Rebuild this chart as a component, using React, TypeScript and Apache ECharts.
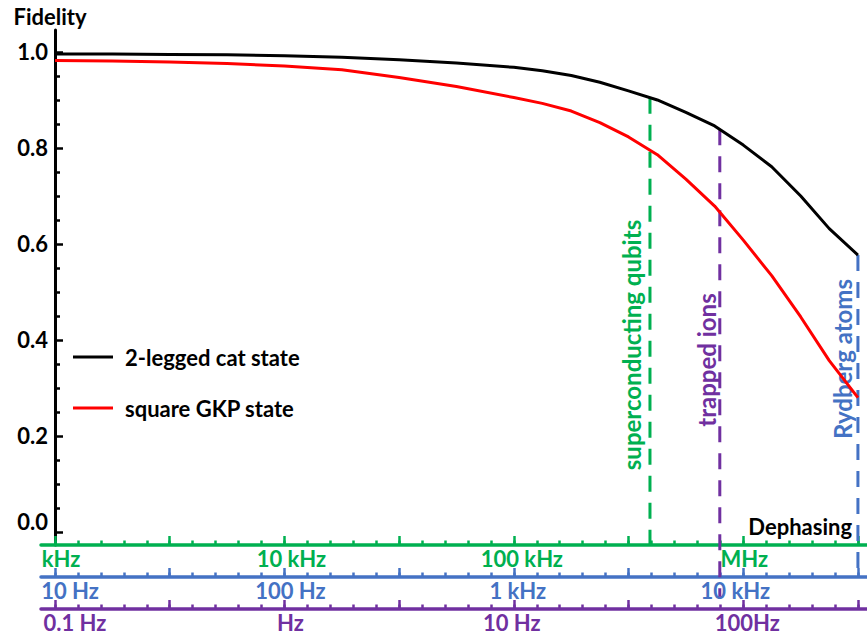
import React, { useEffect, useRef } from 'react';
import * as echarts from 'echarts';

// Dephasing rate on the green (superconducting) scale, in Hz
const rateHz = [
  1e3, 1.78e3, 3.16e3, 5.62e3, 1e4, 1.78e4, 3.16e4, 5.62e4,
  1e5, 1.33e5, 1.78e5, 2.37e5, 3.16e5, 4.22e5, 5.62e5, 7.5e5,
  1e6, 1.33e6, 1.78e6, 2.37e6, 3.16e6,
];
const catFidelity = [
  0.996, 0.996, 0.995, 0.994, 0.992, 0.989, 0.984, 0.977,
  0.968, 0.961, 0.951, 0.937, 0.919, 0.9, 0.874, 0.846,
  0.806, 0.761, 0.70, 0.632, 0.577,
];
const gkpFidelity = [
  0.982, 0.981, 0.979, 0.976, 0.971, 0.963, 0.947, 0.928,
  0.905, 0.893, 0.877, 0.853, 0.823, 0.786, 0.735, 0.679,
  0.608, 0.534, 0.448, 0.357, 0.28,
];

const platformNames = ['superconducting qubits', 'trapped ions', 'Rydberg atoms'];
const platformRateHz = [3.92e5, 7.9e5, 3.16e6];
const platformColors = ['#00b050', '#7030a0', '#4472c4'];
const platformLineBottom = [-0.027, -0.135, -0.094];

const yTickValues = [0, 0.2, 0.4, 0.6, 0.8, 1.0];
const decadeValues = [3, 4, 5, 6];
const greenLabels = ['kHz', '10 kHz', '100 kHz', 'MHz'];
const blueLabels = ['10 Hz', '100 Hz', '1 kHz', '10 kHz'];
const purpleLabels = ['0.1 Hz', 'Hz', '10 Hz', '100Hz'];

// layout/styling constants
const greenNudge = [6, 7, 8, 1];
const blueNudge = [15, 6, 4, -8];
const purpleNudge = [20, 6, -2, 4];
const labelCenterY = [345, 360, 359];
const labelOffsetX = [18, 13, 15];
const FONT = 'Lato, "Open Sans", sans-serif';

const log10 = (v: number) => Math.log10(v);
const minorX: number[] = [];
for (let i = 0; i <= 35; i++) minorX.push(Math.round((3 + i * 0.1) * 10) / 10);
const majorX: number[] = [];
for (let i = 0; i <= 7; i++) majorX.push(3 + i * 0.5);
const minorY: number[] = [];
for (let i = 1; i <= 20; i++) if (i % 4 !== 0) minorY.push(Math.round(i * 0.05 * 100) / 100);

function interpCat(L: number) {
  const Ls = rateHz.map(log10);
  for (let i = 0; i < Ls.length - 1; i++) {
    if (L >= Ls[i] && L <= Ls[i + 1] + 1e-9) {
      const t = (L - Ls[i]) / (Ls[i + 1] - Ls[i]);
      return catFidelity[i] + t * (catFidelity[i + 1] - catFidelity[i]);
    }
  }
  return catFidelity[catFidelity.length - 1];
}

const X1MIN = 3 - 14 / 229.43;
const X1MAX = 6.5 + 9 / 229.43;

function bottomAxes(color: string, labels: string[], nudges: number[], offset: number) {
  const rich: any = {};
  nudges.forEach((n, i) => {
    rich['s' + i] = {
      color, fontWeight: 'bold', fontSize: 22, fontFamily: FONT,
      padding: n >= 0 ? [0, 0, 0, 2 * n] : [0, -2 * n, 0, 0],
    };
  });
  return [
    {
      gridIndex: 1, type: 'value', position: 'bottom', offset, min: X1MIN, max: X1MAX,
      axisLine: { show: true, lineStyle: { color, width: 3.5 } },
      axisTick: { show: true, inside: true, length: 4.5, customValues: minorX, lineStyle: { color, width: 2.5 } },
      axisLabel: { show: false }, splitLine: { show: false },
    },
    {
      gridIndex: 1, type: 'value', position: 'bottom', offset, min: X1MIN, max: X1MAX,
      axisLine: { show: false },
      axisTick: { show: true, inside: true, length: 9, customValues: majorX, lineStyle: { color, width: 2.5 } },
      axisLabel: {
        show: true, customValues: decadeValues, margin: 2, color, fontWeight: 'bold', fontSize: 22, fontFamily: FONT,
        formatter: (v: number) => {
          const idx = decadeValues.indexOf(Math.round(v));
          return idx < 0 ? '' : `{s${idx}|${labels[idx]}}`;
        },
        rich,
      },
      splitLine: { show: false },
    },
  ];
}

export default function App() {
  const ref = useRef<HTMLDivElement>(null);
  useEffect(() => {
    const chart = echarts.init(ref.current!, null, { renderer: 'svg' });
    const greenAxes: any = bottomAxes('#00b050', greenLabels, greenNudge, 0);
    greenAxes[0].name = 'Dephasing';
    greenAxes[0].nameLocation = 'end';
    greenAxes[0].nameGap = -15;
    greenAxes[0].nameTextStyle = { color: '#000', fontWeight: 'bold', fontSize: 22, fontFamily: FONT, align: 'right', verticalAlign: 'bottom', padding: [0, 0, 8, 0] };

    const option: any = {
      animation: false,
      backgroundColor: '#fff',
      grid: [
        { left: 55, right: 9, top: 30, bottom: 89 },
        { left: 41, right: 0, top: 30, bottom: 89 },
      ],
      legend: {
        data: ['2-legged cat state', 'square GKP state'],
        orient: 'vertical', left: 68, top: 339, icon: 'rect', itemWidth: 40, itemHeight: 3, itemGap: 25,
        selectedMode: false,
        formatter: (name: string) => `{t|${name}}`,
        textStyle: {
          fontFamily: FONT, fontWeight: 'bold', fontSize: 22, color: '#000', lineHeight: 26,
          rich: { t: { fontFamily: FONT, fontWeight: 'bold', fontSize: 22, color: '#000', lineHeight: 26, padding: [0, 0, 0, 7] } },
        },
      },
      xAxis: [
        { gridIndex: 0, type: 'value', min: 3, max: 6.5, show: false },
        ...greenAxes,
        ...bottomAxes('#4472c4', blueLabels, blueNudge, 32),
        ...bottomAxes('#7030a0', purpleLabels, purpleNudge, 64),
      ],
      yAxis: [
        {
          gridIndex: 0, type: 'value', min: -0.0271, max: 1.0458,
          name: 'Fidelity', nameLocation: 'end', nameGap: 3,
          nameTextStyle: { color: '#000', fontWeight: 'bold', fontSize: 22, fontFamily: FONT, padding: [0, 10, 0, 0] },
          axisLine: { show: true, lineStyle: { color: '#000', width: 3 } },
          axisTick: { show: true, inside: true, length: 8, customValues: yTickValues, lineStyle: { color: '#000', width: 2.5 } },
          axisLabel: {
            show: true, customValues: yTickValues, margin: 7, color: '#000', fontWeight: 'bold', fontSize: 22, fontFamily: FONT,
            formatter: (v: number) => (Math.abs(v) < 1e-9 ? '{z|0.0}' : v.toFixed(1)),
            rich: { z: { color: '#000', fontWeight: 'bold', fontSize: 22, fontFamily: FONT, padding: [0, 0, 20, 0] } },
          },
          splitLine: { show: false },
        },
        {
          gridIndex: 0, type: 'value', min: -0.0271, max: 1.0458, position: 'left',
          axisLine: { show: false },
          axisTick: { show: true, inside: true, length: 5, customValues: minorY, lineStyle: { color: '#000', width: 2.5 } },
          axisLabel: { show: false }, splitLine: { show: false },
        },
        { gridIndex: 1, type: 'value', min: 0, max: 1, show: false },
      ],
      series: [
        {
          name: '2-legged cat state', type: 'line', xAxisIndex: 0, yAxisIndex: 0, symbol: 'none', z: 4,
          data: rateHz.map((r, i) => [log10(r), catFidelity[i]]),
          lineStyle: { color: '#000', width: 3, join: 'round' }, itemStyle: { color: '#000' },
        },
        {
          name: 'square GKP state', type: 'line', xAxisIndex: 0, yAxisIndex: 0, symbol: 'none', z: 4,
          data: rateHz.map((r, i) => [log10(r), gkpFidelity[i]]),
          lineStyle: { color: '#ff0000', width: 3, join: 'round' }, itemStyle: { color: '#ff0000' },
        },
        ...platformNames.map((n, i) => ({
          name: n, type: 'line', xAxisIndex: 0, yAxisIndex: 0, symbol: 'none', clip: false, silent: true, z: 3,
          data: [
            [log10(platformRateHz[i]), interpCat(log10(platformRateHz[i]))],
            [log10(platformRateHz[i]), platformLineBottom[i]],
          ],
          lineStyle: { color: platformColors[i], width: 3, type: [16, 11] },
          itemStyle: { color: platformColors[i] },
        })),
      ],
    };
    chart.setOption(option);
    const graphics = platformNames.map((n, i) => {
      const p = chart.convertToPixel({ gridIndex: 0 } as any, [log10(platformRateHz[i]), 0]) as number[];
      return {
        type: 'text', x: p[0] - labelOffsetX[i], y: labelCenterY[i], rotation: Math.PI / 2,
        style: { text: n, fill: platformColors[i], fontFamily: FONT, fontWeight: 'bold', fontSize: 24, align: 'center', verticalAlign: 'middle' },
      };
    });
    chart.setOption({ graphic: graphics });
    return () => chart.dispose();
  }, []);
  return <div ref={ref} style={{ position: 'fixed', left: 0, top: 0, width: 867, height: 634 }} />;
}
